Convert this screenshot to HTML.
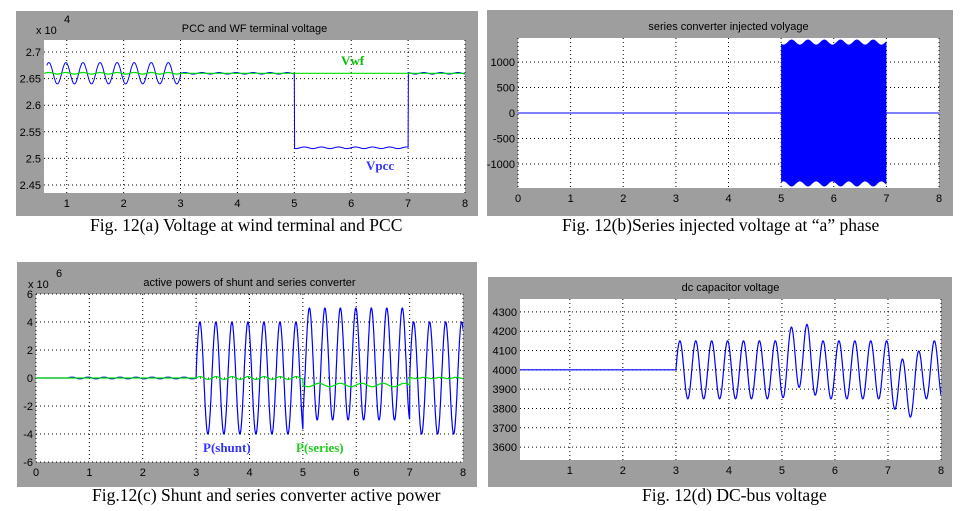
<!DOCTYPE html>
<html><head><meta charset="utf-8"><style>
body{margin:0;background:#fff;width:967px;height:511px;overflow:hidden}
svg{position:absolute;left:0;top:0}
text{font-family:"Liberation Sans",sans-serif;font-size:11px;fill:#000}
text.cap{font-family:"Liberation Serif",serif;font-size:17.5px}
text.lab{font-family:"Liberation Serif",serif;font-weight:bold;font-size:13px}
</style></head><body>
<svg id="s" width="967" height="511" xmlns="http://www.w3.org/2000/svg"></svg>
<script>
const S=document.getElementById('s');let h='';
function panel(o){
 const {gx,gy,gw,gh,ax,ay,aw,ahh,x0,x1,y0,y1,xt,yt,title,cap,capx,capy,exp}=o;
 h+=`<rect x="${gx}" y="${gy}" width="${gw}" height="${gh}" fill="#9e9e9e"/>`;
 h+=`<rect x="${ax}" y="${ay}" width="${aw}" height="${ahh}" fill="#fff"/>`;
 const X=v=>ax+(v-x0)/(x1-x0)*aw, Y=v=>ay+(y1-v)/(y1-y0)*ahh;
 xt.forEach(t=>{const x=X(t);h+=`<line x1="${x}" y1="${ay}" x2="${x}" y2="${ay+ahh}" stroke="#000" stroke-dasharray="1,3"/>`;h+=`<text x="${x}" y="${ay+ahh+14}" text-anchor="middle">${t}</text>`;});
 yt.forEach(t=>{const y=Y(t[0]);h+=`<line x1="${ax}" y1="${y}" x2="${ax+aw}" y2="${y}" stroke="#000" stroke-dasharray="1,3"/>`;h+=`<text x="${ax-3}" y="${y+4}" text-anchor="end">${t[1]}</text>`;});
 h+=`<text x="${ax+aw/2}" y="${ay-8}" text-anchor="middle" font-size="10">${title}</text>`;
 if(exp)h+=`<text x="${ax-8}" y="${ay-6}">x 10</text><text x="${ax+20}" y="${ay-17}">${exp}</text>`;
 h+=`<text class="cap" x="${capx}" y="${capy}">${cap}</text>`;
 return {X,Y,clip:`<clipPath id="c${gx}${gy}"><rect x="${ax}" y="${ay}" width="${aw}" height="${ahh}"/></clipPath>`,cid:`c${gx}${gy}`};
}
function line(p,f,a,b,col,w){let pts=[];for(let t=a;t<=b+1e-9;t+=0.005)pts.push(p.X(t).toFixed(1)+','+p.Y(f(t)).toFixed(1));h+=`<polyline clip-path="url(#${p.cid})" points="${pts.join(' ')}" fill="none" stroke="${col}" stroke-width="${w||1.2}"/>`;}
const sn=(t,per,ph)=>Math.sin(2*Math.PI*(t-ph)/per);
const bump=(t,a,b)=>Math.max(0,Math.sin(Math.PI*(t-a)/(b-a)))*(t>a&&t<b?1:0);
// (a)
let a=panel({gx:16,gy:11,gw:462,gh:205,ax:44,ay:40,aw:421,ahh:153,x0:0.6,x1:8,y0:2.435,y1:2.7225,xt:[1,2,3,4,5,6,7,8],yt:[[2.7,'2.7'],[2.65,'2.65'],[2.6,'2.6'],[2.55,'2.55'],[2.5,'2.5'],[2.45,'2.45']],title:'PCC and WF terminal voltage',cap:'Fig. 12(a) Voltage at wind terminal and PCC',capx:90,capy:231,exp:'4'});
h+=a.clip;
line(a,t=>t<3?2.66+0.02*sn(t,0.3,0.61):(t<5?2.66+0.0015*sn(t,0.3,0):(t<7?2.52+0.0015*sn(t,0.3,0):2.66+0.0015*sn(t,0.3,0))),0.65,8,'#0000ff',1);
line(a,t=>t<3?2.66+0.0015*sn(t,0.3,0.61):2.66,0.6,8,'#00e000');
h+=`<text class="lab" x="341" y="65" style="fill:#00c000">Vwf</text><text class="lab" x="366" y="170" style="fill:#3333ff">Vpcc</text>`;
// (b)
let b=panel({gx:487,gy:10,gw:466,gh:206,ax:518,ay:38,aw:421,ahh:150,x0:0,x1:8,y0:-1470,y1:1470,xt:[0,1,2,3,4,5,6,7,8],yt:[[1000,'1000'],[500,'500'],[0,'0'],[-500,'-500'],[-1000,'-1000']],title:'series converter injected volyage',cap:'Fig. 12(b)Series injected voltage at “a” phase',capx:562,capy:231});
h+=b.clip;
line(b,t=>0,0,8,'#0000ff',1);
{let top=[],bot=[];for(let t=5;t<=7.0001;t+=0.01){const v=1390+50*Math.cos(2*Math.PI*(t-5.2)/0.31);top.push(b.X(t).toFixed(1)+','+b.Y(v).toFixed(1));bot.unshift(b.X(t).toFixed(1)+','+b.Y(-v).toFixed(1));}
h+=`<polygon points="${top.join(' ')} ${bot.join(' ')}" fill="#0000ff"/>`;}
// (c)
let c=panel({gx:17,gy:262,gw:460,gh:225,ax:36,ay:294,aw:427,ahh:168,x0:0,x1:8,y0:-6,y1:6,xt:[0,1,2,3,4,5,6,7,8],yt:[[6,'6'],[4,'4'],[2,'2'],[0,'0'],[-2,'-2'],[-4,'-4'],[-6,'-6']],title:'active powers of shunt and series converter',cap:'Fig.12(c) Shunt and series converter active power',capx:92,capy:501,exp:'6'});
h+=c.clip;
line(c,t=>t<3?(t>0.6?0.06*sn(t,0.3,0):0):(t<5?4*sn(t,0.3,2.995):(t<7?1+4*sn(t,0.29,5.05):4*sn(t,0.3,7.0))),0,8,'#0000ff');
line(c,t=>t<3?0:(t<5?0.1*sn(t,0.3,0):(t<7?-0.5+0.12*sn(t,0.4,0):0.05*sn(t,0.3,0))),0,8,'#00e000');
h+=`<text class="lab" x="203" y="452" style="fill:#3333ff">P(shunt)</text><text class="lab" x="296" y="452" style="fill:#22cc22">P(series)</text>`;
// (d)
let d=panel({gx:488,gy:277,gw:464,gh:210,ax:520,ay:299,aw:421,ahh:161,x0:0.06,x1:8,y0:3533,y1:4367,xt:[1,2,3,4,5,6,7,8],yt:[[4300,'4300'],[4200,'4200'],[4100,'4100'],[4000,'4000'],[3900,'3900'],[3800,'3800'],[3700,'3700'],[3600,'3600']],title:'dc capacitor voltage',cap:'Fig. 12(d) DC-bus voltage',capx:642,capy:501});
h+=d.clip;
line(d,t=>{if(t<3)return 4000;const c0=4000+80*bump(t,5,5.7)-100*bump(t,7,7.7);const amp=150+20*bump(t,5,5.7);return c0+amp*sn(t,0.3,3.0);},0,8,'#0000ff');
S.innerHTML=h;
</script>
</body></html>
